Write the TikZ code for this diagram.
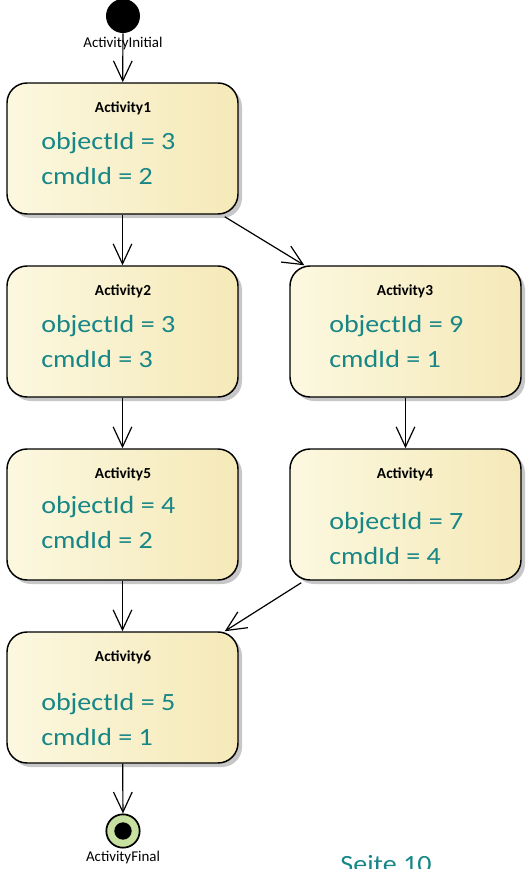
\documentclass[tikz,border=0pt]{standalone}
\usepackage{fontspec}
\setmainfont{Carlito}
\newfontfamily\widefont[FakeStretch=1.13]{Carlito}
\usetikzlibrary{arrows.meta,shadows,calc}
\definecolor{tealtxt}{RGB}{22,134,134}
\definecolor{boxl}{RGB}{252,248,224}
\definecolor{boxr}{RGB}{245,233,184}
\definecolor{finalgreen}{RGB}{200,224,160}
\tikzset{
  actbox/.style={draw=black, line width=1.1pt, rounded corners=15pt,
    minimum width=173.25pt, minimum height=98.25pt, inner sep=0pt,
    left color=boxl, right color=boxr,
    drop shadow={shadow xshift=3pt, shadow yshift=-3pt, fill=black!22, opacity=1}},
  acttitle/.style={font=\bfseries\fontsize{11.5}{13}\selectfont, anchor=base, inner sep=0pt},
  attr/.style={font=\widefont\fontsize{18.6}{22}\selectfont, text=tealtxt, anchor=base west, inner sep=0pt},
  flow/.style={line width=0.9pt, -{Straight Barb[length=15pt,width=14pt,line width=0.9pt]}},
  smalllbl/.style={font=\fontsize{11.2}{13}\selectfont, inner sep=0pt}
}
\begin{document}
\begin{tikzpicture}[x=0.75pt,y=-0.75pt]
\useasboundingbox (0,0) rectangle (531,869);
% initial
\node[circle, fill=black, minimum size=25.5pt, inner sep=0pt] (init) at (123,16) {};
\node[smalllbl] (initlbl) at (123,44) {ActivityInitial};
% boxes
\node[actbox] (a1) at (122.5,148.5) {};
\node[actbox] (a2) at (122.5,331.5) {};
\node[actbox] (a3) at (405.5,331.5) {};
\node[actbox] (a5) at (122.5,514.5) {};
\node[actbox] (a4) at (405.5,514.5) {};
\node[actbox] (a6) at (122.5,697.5) {};
% titles and attributes
\node[acttitle] (t1) at (123,112) {Activity1};
\node[attr] (o1) at (41,149) {objectId = 3};
\node[attr] (c1) at (41,184) {cmdId = 2};
\node[acttitle] (t2) at (123,295) {Activity2};
\node[attr] (o2) at (41,332) {objectId = 3};
\node[attr] (c2) at (41,367) {cmdId = 3};
\node[acttitle] (t3) at (405,295) {Activity3};
\node[attr] (o3) at (329,332) {objectId = 9};
\node[attr] (c3) at (329,367) {cmdId = 1};
\node[acttitle] (t5) at (123,478) {Activity5};
\node[attr] (o5) at (41,513) {objectId = 4};
\node[attr] (c5) at (41,548) {cmdId = 2};
\node[acttitle] (t4) at (405,478) {Activity4};
\node[attr] (o4) at (329,529) {objectId = 7};
\node[attr] (c4) at (329,564) {cmdId = 4};
\node[acttitle] (t6) at (123,661) {Activity6};
\node[attr] (o6) at (41,710) {objectId = 5};
\node[attr] (c6) at (41,745) {cmdId = 1};
% final
\node[circle, draw=black, line width=1.3pt, fill=finalgreen, minimum size=25pt, inner sep=0pt] (fin) at (123,831) {};
\node[circle, fill=black, minimum size=13pt, inner sep=0pt] (fininner) at (123,831) {};
\node[smalllbl] (finlbl) at (123,858) {ActivityFinal};
% flows
\draw[flow] (init) -- (a1);
\draw[flow] (a1) -- (a2);
\draw[flow] ($(a1.south east)+(-14,2)$) -- ($(a3.north west)+(15,0)$);
\draw[flow] (a2) -- (a5);
\draw[flow] (a3) -- (a4);
\draw[flow] (a5) -- (a6);
\draw[flow] ($(a4.south west)+(12,2)$) -- ($(a6.north east)+(-14,0)$);
\draw[flow] (a6) -- (fin);
% page label
\node[font=\widefont\fontsize{18.6}{22}\selectfont, text=tealtxt, anchor=base, inner sep=0pt] (seite) at (386,872) {Seite 10};
\end{tikzpicture}
\end{document}
